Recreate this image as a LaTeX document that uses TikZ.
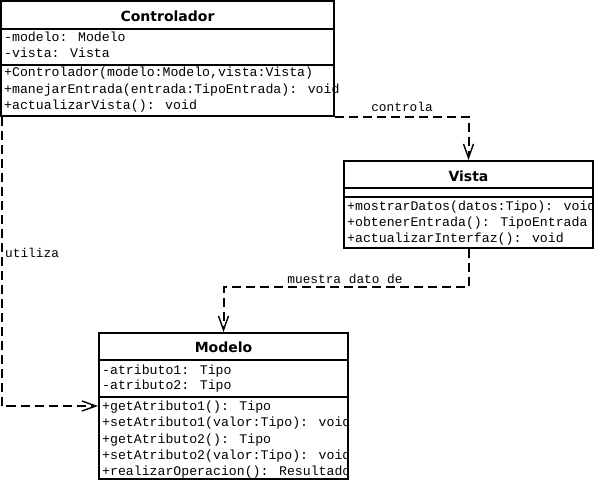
\documentclass[tikz,border=0pt]{standalone}
\usepackage{fontspec}
\usetikzlibrary{arrows.meta}
\newfontfamily\titlefont{DejaVu Sans}[BoldFont={DejaVu Sans Bold}]
\newfontfamily\memfont{Liberation Mono}
\begin{document}
\begin{tikzpicture}[x=1pt,y=-1pt,
  classbox/.style={draw=black,line width=2pt,fill=white,inner sep=0pt,rectangle},
  sep/.style={line width=2pt},
  ttl/.style={font=\titlefont\bfseries\fontsize{14}{14}\selectfont,anchor=base,inner sep=0pt},
  mem/.style={font=\memfont\fontsize{13.2}{13.2}\selectfont,anchor=base west,inner sep=0pt},
  lbl/.style={font=\memfont\fontsize{12.8}{12.8}\selectfont,anchor=base,inner sep=0pt},
  dep/.style={line width=2pt,dash pattern=on 9pt off 5pt,-{Straight Barb[length=14pt,width=10pt,line width=1.4pt]}}]
\useasboundingbox (0,0) rectangle (594,481);
% Controlador
\node[classbox,minimum width=333pt,minimum height=115pt] (ctrl) at (167.5,58.5) {};
\draw[sep] (1,29) -- (334,29);
\draw[sep] (1,65) -- (334,65);
\node[ttl] (ctrlT) at (167.5,21.5) {Controlador};
\node[mem] (c1) at (4,42) {-modelo: Modelo};
\node[mem] (c2) at (4,57.5) {-vista: Vista};
\node[mem] (c3) at (4,77) {+Controlador(modelo:Modelo,vista:Vista)};
\node[mem] (c4) at (4,93.5) {+manejarEntrada(entrada:TipoEntrada): void};
\node[mem] (c5) at (4,110) {+actualizarVista(): void};
% Vista
\node[classbox,minimum width=249pt,minimum height=87pt] (vista) at (468.5,204.5) {};
\draw[sep] (344,188) -- (593,188);
\draw[sep] (344,197) -- (593,197);
\node[ttl] (vistaT) at (468.5,182) {Vista};
\begin{scope}
\clip (345,198) rectangle (592,247);
\node[mem] (v1) at (347,211) {+mostrarDatos(datos:Tipo): void};
\node[mem] (v2) at (347,226.5) {+obtenerEntrada(): TipoEntrada};
\node[mem] (v3) at (347,242) {+actualizarInterfaz(): void};
\end{scope}
% Modelo
\node[classbox,minimum width=249pt,minimum height=146pt] (modelo) at (223.5,406) {};
\draw[sep] (99,360) -- (348,360);
\draw[sep] (99,397) -- (348,397);
\node[ttl] (modeloT) at (223.5,352) {Modelo};
\begin{scope}
\clip (100,361) rectangle (347,478);
\node[mem] (m1) at (102,374) {-atributo1: Tipo};
\node[mem] (m2) at (102,389.5) {-atributo2: Tipo};
\node[mem] (m3) at (102,410) {+getAtributo1(): Tipo};
\node[mem] (m4) at (102,426.5) {+setAtributo1(valor:Tipo): void};
\node[mem] (m5) at (102,443) {+getAtributo2(): Tipo};
\node[mem] (m6) at (102,459) {+setAtributo2(valor:Tipo): void};
\node[mem] (m7) at (102,475) {+realizarOperacion(): Resultado};
\end{scope}
% connectors
\coordinate (mid) at (300,287);
\draw[dep] (ctrl.south east) -| (vista.north);
\draw[dep] ([xshift=1.5pt]ctrl.south west) |- (modelo.west);
\draw[dep] (vista.south) |- (mid) -| (modelo.north);
\node[lbl] (l1) at (402,112) {controla};
\node[lbl,anchor=base west] (l2) at (5,257) {utiliza};
\node[lbl] (l3) at (345,283) {muestra dato de};
\end{tikzpicture}
\end{document}
